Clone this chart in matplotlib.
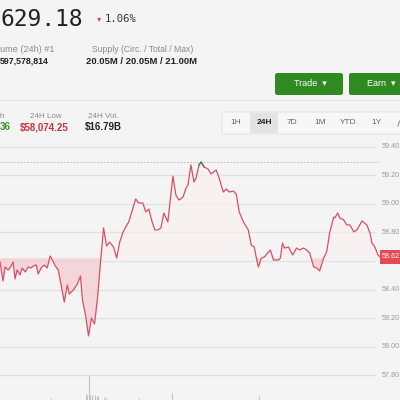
import matplotlib
matplotlib.use("Agg")
import matplotlib.pyplot as plt
from matplotlib.patches import FancyBboxPatch, Rectangle

# ---------------- data ----------------
hours = [0.00, 0.19, 0.32, 0.51, 0.63, 0.83, 0.95, 1.08, 1.27, 1.40, 1.59, 1.78, 1.97, 2.10, 2.29,
         2.41, 2.60, 2.79, 2.98, 3.17, 3.37, 3.49, 3.68, 3.87, 4.06, 4.25, 4.38, 4.63, 4.89, 5.08,
         5.21, 5.40, 5.59, 5.78, 5.97, 6.16, 6.35, 6.54, 6.73, 6.92, 7.17, 7.37, 7.56, 7.75, 7.94,
         8.13, 8.32, 8.57, 8.76, 9.02, 9.21, 9.40, 9.59, 9.78, 9.97, 10.16, 10.35, 10.60, 10.92, 11.11,
         11.30, 11.56, 11.75, 11.87, 12.06, 12.25, 12.38, 12.57, 12.70, 12.89, 13.14, 13.33, 13.65, 13.84,
         14.10, 14.29, 14.48, 14.73, 14.92, 15.11, 15.37, 15.68, 15.87, 16.06, 16.19, 16.32, 16.51, 16.70,
         16.95, 17.08, 17.27, 17.59, 17.71, 17.84, 17.97, 18.22, 18.48, 18.73, 18.92, 19.17, 19.37, 19.56,
         19.81, 20.00, 20.19, 20.44, 20.63, 20.83, 21.08, 21.14, 21.33, 21.46, 21.71, 21.90, 22.10, 22.35,
         22.54, 22.86, 23.17, 23.37, 23.49, 23.68, 23.87, 24.00]
prices = [58593, 58460, 58558, 58537, 58551, 58593, 58474, 58537, 58502, 58551, 58523, 58558, 58551, 58565, 58572,
          58509, 58551, 58572, 58551, 58635, 58593, 58565, 58537, 58425, 58312, 58432, 58368, 58396, 58439, 58495,
          58326, 58221, 58074.25, 58200, 58158, 58340, 58593, 58832, 58705, 58733, 58698, 58621, 58733, 58796, 58839,
          58874, 58944, 59035, 59007, 59007, 58944, 58965, 58881, 58818, 58818, 58832, 58937, 58874, 59196, 59063,
          59028, 59049, 59112, 59133, 59274, 59154, 59182, 59274, 59295, 59260, 59246, 59211, 59239, 59182,
          59084, 59105, 59084, 59091, 59070, 58944, 58874, 58818, 58712, 58698, 58621, 58558, 58621, 58628,
          58663, 58677, 58607, 58607, 58621, 58726, 58691, 58698, 58642, 58691, 58677, 58691, 58677, 58656,
          58558, 58551, 58530, 58621, 58663, 58804, 58909, 58902, 58937, 58902, 58888, 58853, 58853, 58804,
          58818, 58881, 58853, 58796, 58726, 58698, 58642, 58629.18]
baseline = 58620

vol_hours = [3.24, 5.40, 5.52, 5.59, 5.71, 5.84, 5.97, 6.10, 6.22, 6.54, 6.67, 8.76, 10.86, 16.38]
vol_values = [200, 600, 500, 2500, 550, 500, 550, 450, 400, 350, 300, 250, 700, 400]

y_ticks = [57800, 58000, 58200, 58400, 58600, 58800, 59000, 59200, 59400]
y_tick_labels = ["57.80", "58.00", "58.20", "58.40", "", "58.80", "59.00", "59.20", "59.40"]
current_label = "58.62"

timeframes = ["1H", "24H", "7D", "1M", "YTD", "1Y"]
tf_selected = "24H"

# ---------------- figure ----------------
BG = "#f4f4f4"
W, H = 400, 400
fig = plt.figure(figsize=(4, 4), dpi=100, facecolor=BG)
FONT = ["Liberation Sans", "DejaVu Sans"]


def P(x, y):
    return x / W, 1 - y / H


def txt(x, y, s, **kw):
    kw.setdefault("family", FONT)
    kw.setdefault("va", "center")
    fig.text(*P(x, y), s, **kw)


# header
txt(1, 19, "629.18", family="DejaVu Sans Mono", fontsize=16.5, color="#222222")
txt(97, 19, "\u25be", family="DejaVu Sans", fontsize=6, color="#d9485f")
txt(105, 19, "1.06%", family="DejaVu Sans Mono", fontsize=7.6, color="#333333")
txt(0, 49, "ume (24h) #1", fontsize=6.6, color="#8a8a8a")
txt(92, 49, "Supply (Circ. / Total / Max)", fontsize=6.2, color="#8a8a8a")
txt(0, 61, "597,578,814", fontsize=6.4, color="#222222", weight="bold")
txt(86, 61, "20.05M / 20.05M / 21.00M", fontsize=6.8, color="#222222", weight="bold")

# buttons
GREEN = "#2f8a22"
for x0, x1, label in [(275, 343, "Trade  \u25be"), (349, 412, "Earn  \u25be")]:
    fig.patches.append(FancyBboxPatch(P(x0, 95), (x1 - x0) / W, 22 / H,
                                      boxstyle="round,pad=0,rounding_size=0.006",
                                      transform=fig.transFigure, facecolor=GREEN,
                                      edgecolor="none"))
    txt((x0 + x1) / 2 + 1, 84, label, fontsize=6.5, color="white", ha="center")

# separator
fig.add_artist(plt.Line2D([0, 1], [1 - 100 / H] * 2, transform=fig.transFigure,
                          color="#e2e2e2", lw=0.8))

# stats row
txt(0, 116, "h", fontsize=5.8, color="#8a8a8a")
txt(30, 116, "24H Low", fontsize=5.8, color="#8a8a8a")
txt(88, 116, "24H Vol.", fontsize=5.8, color="#8a8a8a")
txt(0, 127, "36", fontsize=7, color="#3d8f2c", weight="bold")
txt(20, 127, "$58,074.25", fontsize=7, color="#c9333f", weight="bold")
txt(85, 127, "$16.79B", fontsize=7, color="#222222", weight="bold")

# timeframe selector
fig.patches.append(FancyBboxPatch(P(222, 134), 190 / W, 22 / H,
                                  boxstyle="round,pad=0,rounding_size=0.006",
                                  transform=fig.transFigure, facecolor="#f7f7f7",
                                  edgecolor="#e3e3e3", lw=0.8))
for i, tf in enumerate(timeframes):
    cx = 236 + i * 28
    if tf == tf_selected:
        fig.patches.append(Rectangle(P(cx - 14, 133), 28 / W, 20 / H,
                                     transform=fig.transFigure, facecolor="#e3e3e3",
                                     edgecolor="none"))
    txt(cx, 123, tf, fontsize=6, color="#222222" if tf == tf_selected else "#666666",
        ha="center", weight="bold" if tf == tf_selected else "normal")
# sliver of the next (cut-off) button label at the right edge
fig.add_artist(plt.Line2D([398 / W, 399.5 / W], [1 - 126 / H, 1 - 121 / H],
                          transform=fig.transFigure, color="#888888", lw=0.7))

# ---------------- chart ----------------
ax = fig.add_axes([0, 0, 380 / W, 260 / H])
ax.set_facecolor("none")
ax.set_xlim(0, 24)
ax.set_ylim(57624.6, 59449.1)
for s in ax.spines.values():
    s.set_visible(False)
ax.set_xticks([])
ax.set_yticks([])

for t in y_ticks:
    ax.axhline(t, xmin=0, xmax=375 / 380, color="#e0e0e0", lw=0.8, zorder=0)

ytr = ax.get_yaxis_transform()
for t, lab in zip(y_ticks, y_tick_labels):
    ax.text(382 / 380, t, lab, transform=ytr, fontsize=5.2, color="#9a9a9a",
            family=FONT, va="center", ha="left", clip_on=False)

LINE = "#da4f63"
ax.fill_between(hours, prices, baseline, where=[p < baseline for p in prices],
                interpolate=True, color="#f4cdd2", alpha=0.75, lw=0, zorder=1)
ax.fill_between(hours, prices, baseline, where=[p >= baseline for p in prices],
                interpolate=True, color="#fbf0f1", alpha=0.6, lw=0, zorder=1)

hi = max(prices)
ax.axhline(hi, xmin=0, xmax=378 / 380, color="#b5b5b5", lw=0.6, ls=(0, (2, 2)), zorder=2)

ax.plot(hours, prices, color=LINE, lw=0.9, zorder=3)
imax = prices.index(hi)
ax.plot(hours[imax - 1:imax + 2], prices[imax - 1:imax + 2], color="#2e8a4a", lw=0.9, zorder=4)

# current price tag
cur = prices[-1]
ycur = ax.transData.transform((0, cur))[1]
fig.patches.append(Rectangle((380 / W, (ycur - 7) / H), 20 / W, 14 / H,
                             transform=fig.transFigure, facecolor="#e34a55", edgecolor="none"))
fig.text(382 / W, ycur / H, current_label, fontsize=5.2, color="white", family=FONT,
         va="center", ha="left")

# volume
vax = fig.add_axes([0, 0, 380 / W, 25 / H])
vax.set_facecolor("none")
vax.set_xlim(0, 24)
vax.set_ylim(0, 2500)
vax.axis("off")
vax.vlines(vol_hours, 0, vol_values, color="#c4c4c4", lw=0.8)

fig.savefig("out.png", dpi=100, facecolor=BG)
